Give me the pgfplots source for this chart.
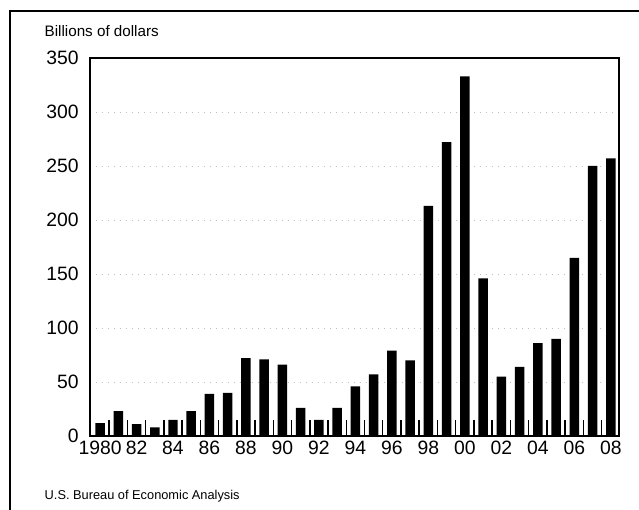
\documentclass[border=0pt]{standalone}
\usepackage{fontspec}
\setmainfont{Liberation Sans}
\usepackage{pgfplots}
\pgfplotsset{compat=1.18}

\pgfplotstableread{
year value
1980 12
1981 23
1982 11
1983 8
1984 15
1985 23
1986 39
1987 40
1988 72
1989 71
1990 66
1991 26
1992 15
1993 26
1994 46
1995 57
1996 79
1997 70
1998 213
1999 272
2000 333
2001 146
2002 55
2003 64
2004 86
2005 90
2006 165
2007 250
2008 257
}\fdidata

\begin{document}
\begin{tikzpicture}
\useasboundingbox (0pt,0pt) rectangle (479.25pt,382.5pt);
% outer frame (cut at right and bottom)
\draw[line width=1.5pt] (7.5pt,0pt) -- (7.5pt,374.25pt) -- (479.25pt,374.25pt);
\node[anchor=base west, font=\fontsize{11.4}{13}\selectfont] at (30pt,354.75pt) {Billions of dollars};
\node[anchor=base west, font=\fontsize{9.6}{11}\selectfont] at (30pt,7.8pt) {U.S. Bureau of Economic Analysis};
\begin{axis}[
    at={(67.5pt,55.5pt)}, anchor=south west,
    scale only axis,
    width=396.75pt, height=283.5pt,
    xmin=1979.45, xmax=2008.45,
    ymin=0, ymax=350,
    axis line style={line width=1.4pt},
    ticklabel style={font=\fontsize{14.5}{16}\selectfont},
    /pgf/number format/assume math mode=true,
    % tick marks between the bars
    xtick={1980.5,1981.5,...,2007.5},
    xticklabels={},
    xtick pos=lower,
    tick align=inside,
    major tick length=12pt,
    x tick style={black, line width=1.1pt},
    extra x ticks={1980,1982,...,2008},
    extra x tick labels={1980,82,84,86,88,90,92,94,96,98,00,02,04,06,08},
    extra x tick style={major tick length=0pt, xticklabel style={yshift=0pt}},
    ytick={0,50,...,350},
    y tick style={draw=none},
    yticklabel style={xshift=-5pt},
    ymajorgrids,
    grid style={gray!50, line width=0.5pt, loosely dotted},
]
\addplot[ybar, bar width=0.52, fill=black, draw=none] table[x=year, y=value] {\fdidata};
\end{axis}
\end{tikzpicture}
\end{document}
